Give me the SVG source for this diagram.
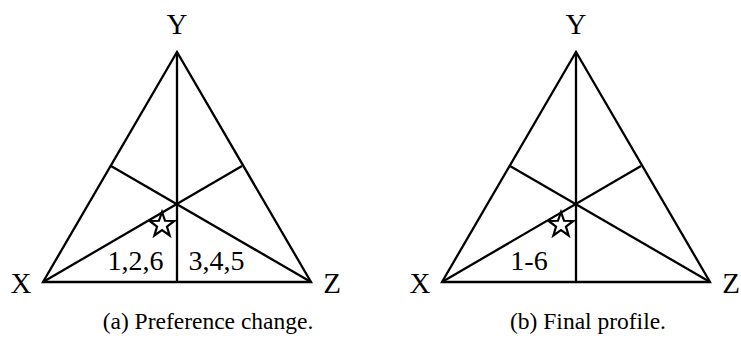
<svg xmlns="http://www.w3.org/2000/svg" width="741" height="343" viewBox="0 0 741 343">
<style>
.ln{stroke:#000;stroke-width:2.3;fill:none;stroke-linejoin:miter;stroke-linecap:butt}
.star{stroke:#000;stroke-width:2.2;fill:#fff;stroke-linejoin:miter}
text{font-family:"Liberation Serif","Times New Roman",serif;fill:#000}
.lbl{font-size:29px}
.num{font-size:28px}
.cap{font-size:23.5px}
</style>
<defs>
<g id="tri">
<path class="ln" d="M43,282 L311,282 L177,52 Z"/>
<line class="ln" x1="177" y1="52" x2="177" y2="282"/>
<line class="ln" x1="43" y1="282" x2="242" y2="166"/>
<line class="ln" x1="311" y1="282" x2="111" y2="166"/>
</g>
<polygon id="starshape" class="star" points="0,-13 3.06,-4.21 12.36,-4.02 4.95,1.61 7.64,10.52 0,5.21 -7.64,10.52 -4.95,1.61 -12.36,-4.02 -3.06,-4.21"/>
</defs>
<g id="connectors">
<use href="#tri"/>
<use href="#tri" x="399"/>
</g>
<g id="fig-a">
<g id="a-star"><use href="#starshape" transform="translate(162,225)"/></g>
<g id="a-Y"><text class="lbl" x="177" y="34" text-anchor="middle">Y</text></g>
<g id="a-X"><text class="lbl" x="21" y="293" text-anchor="middle">X</text></g>
<g id="a-Z"><text class="lbl" x="332" y="293" text-anchor="middle">Z</text></g>
<g id="a-left"><text class="num" x="135.5" y="269.5" text-anchor="middle">1,2,6</text></g>
<g id="a-right"><text class="num" x="216.5" y="269.5" text-anchor="middle">3,4,5</text></g>
<g id="a-cap"><text class="cap" x="208" y="329" text-anchor="middle">(a) Preference change.</text></g>
</g>
<g id="fig-b">
<g id="b-star"><use href="#starshape" transform="translate(561,225)"/></g>
<g id="b-Y"><text class="lbl" x="576" y="34" text-anchor="middle">Y</text></g>
<g id="b-X"><text class="lbl" x="420" y="293" text-anchor="middle">X</text></g>
<g id="b-Z"><text class="lbl" x="731" y="293" text-anchor="middle">Z</text></g>
<g id="b-left"><text class="num" x="529" y="269.5" text-anchor="middle">1-6</text></g>
<g id="b-cap"><text class="cap" x="588" y="329" text-anchor="middle">(b) Final profile.</text></g>
</g>
</svg>
